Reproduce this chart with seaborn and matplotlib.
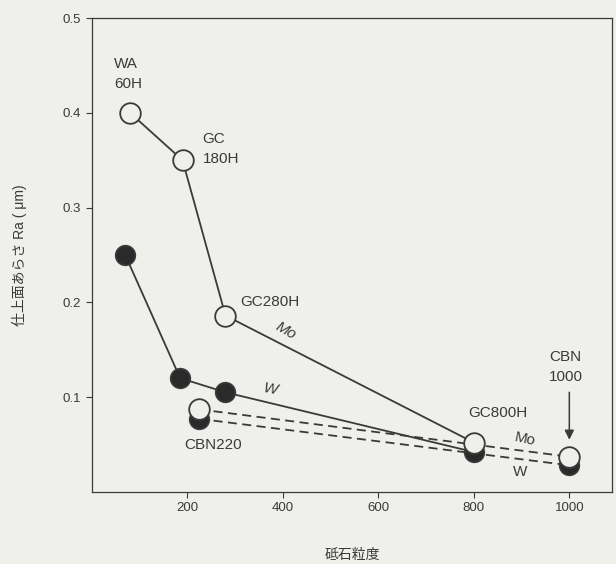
import matplotlib
matplotlib.use("Agg")
import matplotlib.pyplot as plt
import seaborn as sns
import pandas as pd

sns.set_style("ticks")
plt.rcParams['font.family'] = ['Liberation Sans', 'Noto Sans CJK JP', 'DejaVu Sans']

# Data
mo_conv_x = [80, 190, 280, 800]
mo_conv_y = [0.40, 0.35, 0.186, 0.052]
w_conv_x = [70, 185, 280, 800]
w_conv_y = [0.25, 0.12, 0.105, 0.042]
mo_cbn_x = [225, 1000]
mo_cbn_y = [0.087, 0.037]
w_cbn_x = [225, 1000]
w_cbn_y = [0.077, 0.028]

bg = '#efefeb'
ink = '#3a3a3a'

fig = plt.figure(figsize=(6.16, 5.64), dpi=100, facecolor=bg)
ax = fig.add_axes([0.149, 0.128, 0.845, 0.840])
ax.set_facecolor(bg)

df_wc = pd.DataFrame({'x': w_conv_x, 'y': w_conv_y})
df_mc = pd.DataFrame({'x': mo_conv_x, 'y': mo_conv_y})
df_wb = pd.DataFrame({'x': w_cbn_x, 'y': w_cbn_y})
df_mb = pd.DataFrame({'x': mo_cbn_x, 'y': mo_cbn_y})

sns.lineplot(data=df_wc, x='x', y='y', ax=ax, color=ink, lw=1.3, sort=False, zorder=2)
sns.lineplot(data=df_mc, x='x', y='y', ax=ax, color=ink, lw=1.3, sort=False, zorder=2)
sns.lineplot(data=df_wb, x='x', y='y', ax=ax, color=ink, lw=1.3, sort=False, zorder=2,
             linestyle=(0, (5, 3)))
sns.lineplot(data=df_mb, x='x', y='y', ax=ax, color=ink, lw=1.3, sort=False, zorder=2,
             linestyle=(0, (5, 3)))

sns.scatterplot(data=df_wc, x='x', y='y', ax=ax, s=200, color='#2a2a2a', edgecolor=ink,
                linewidth=1.2, zorder=3)
sns.scatterplot(data=df_wb, x='x', y='y', ax=ax, s=200, color='#2a2a2a', edgecolor=ink,
                linewidth=1.2, zorder=3)
sns.scatterplot(data=df_mc, x='x', y='y', ax=ax, s=220, color=bg, edgecolor=ink,
                linewidth=1.3, zorder=4)
sns.scatterplot(data=df_mb, x='x', y='y', ax=ax, s=220, color=bg, edgecolor=ink,
                linewidth=1.3, zorder=4)

ax.set_xlim(0, 1090)
ax.set_ylim(0, 0.5)
ax.set_xticks([200, 400, 600, 800, 1000])
ax.set_yticks([0.1, 0.2, 0.3, 0.4, 0.5])
ax.set_yticklabels(['0.1', '0.2', '0.3', '0.4', '0.5'])
ax.tick_params(colors=ink, labelsize=9.5, length=4, width=0.8, direction='out')
for sp in ax.spines.values():
    sp.set_color(ink)
    sp.set_linewidth(0.9)

ax.set_xlabel('砥石粒度', fontsize=10, color=ink, labelpad=24)
ax.set_ylabel('仕上面あらさ Ra ( μm)', fontsize=10, color=ink, labelpad=26)

fs = 11
ax.text(47, 0.423, 'WA\n60H', fontsize=fs, color=ink, ha='left', va='bottom', linespacing=1.55)
ax.text(232, 0.344, 'GC\n180H', fontsize=fs, color=ink, ha='left', va='bottom', linespacing=1.55)
ax.text(310, 0.2, 'GC280H', fontsize=fs, color=ink, ha='left', va='center')
ax.text(407, 0.170, 'Mo', fontsize=fs, color=ink, ha='center', va='center', rotation=-30,
        style='italic')
ax.text(374, 0.108, 'W', fontsize=fs, color=ink, ha='center', va='center', style='italic',
        rotation=-10)
ax.text(255, 0.049, 'CBN220', fontsize=fs, color=ink, ha='center', va='center')
ax.text(850, 0.083, 'GC800H', fontsize=fs, color=ink, ha='center', va='center')
ax.text(908, 0.055, 'Mo', fontsize=fs, color=ink, ha='center', va='center', rotation=-12)
ax.text(897, 0.021, 'W', fontsize=fs, color=ink, ha='center', va='center')
ax.text(992, 0.114, 'CBN\n1000', fontsize=fs, color=ink, ha='center', va='bottom',
        linespacing=1.5)
ax.annotate('', xy=(1000, 0.052), xytext=(1000, 0.108),
            arrowprops=dict(arrowstyle='-|>', color=ink, lw=1.1, mutation_scale=14))

fig.savefig('out.png', dpi=100, facecolor=bg)
